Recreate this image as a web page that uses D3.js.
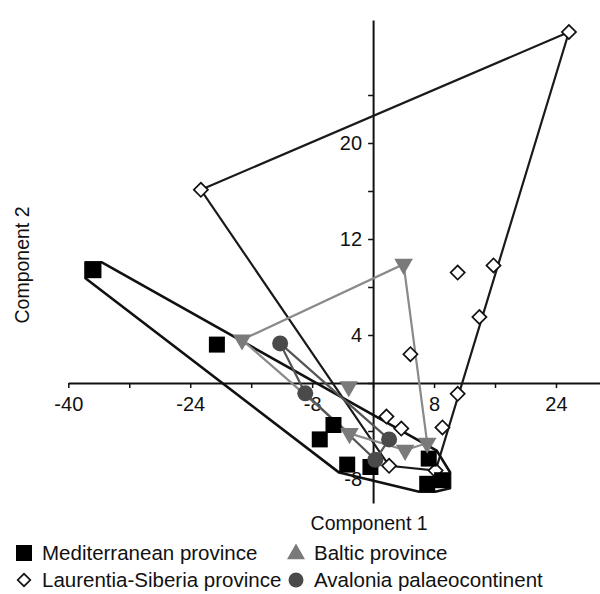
<!DOCTYPE html>
<html>
<head>
<meta charset="utf-8">
<script src="https://cdn.jsdelivr.net/npm/d3@7"></script>
<style>
  body { margin: 0; background: #fff; }
  text { font-family: Arial, "Liberation Sans", sans-serif; }
</style>
</head>
<body>
<div id="my_dataviz"></div>
<script>
// values
var medX = [-36.7, -20.5, -7.0, -5.2, -3.4, -0.35, 7.3, 7.1, 9.05];
var medY = [9.4, 3.2, -4.7, -3.5, -6.8, -7.0, -6.3, -8.4, -8.1];

var laurX = [25.7, -22.6, 11.1, 15.8, 13.95, 4.9, 11.1, 1.75, 3.7, 9.1, 2.1, 8.2];
var laurY = [29.25, 16.1, 9.2, 9.8, 5.5, 2.4, -0.9, -2.8, -3.8, -3.7, -6.9, -7.3];

var balX = [-17.2, 4.0, -3.2, -3.1, 4.2, 7.1];
var balY = [3.6, 9.9, -0.3, -4.2, -5.6, -5.0];

var avaX = [-12.2, -8.9, 2.1, 0.3];
var avaY = [3.3, -0.86, -4.7, -6.4];

var xTicks = [-40, -32, -24, -16, -8, 0, 8, 16, 24];
var xLabels = [-40, -24, -8, 8, 24];
var yTicks = [-8, -4, 0, 4, 8, 12, 16, 20, 24];
var yLabels = [-8, 4, 12, 20];

var legendNames = ["Mediterranean province", "Laurentia-Siberia province", "Baltic province", "Avalonia palaeocontinent"];

var width = 600, height = 594;

var svg = d3.select("#my_dataviz")
  .append("svg")
  .attr("width", width)
  .attr("height", height);

var x = d3.scaleLinear().domain([-40, 30]).range([68.3, 601.7]);
var y = d3.scaleLinear().domain([-10, 30.25]).range([503, 20]);

function pts(xs, ys) {
  return xs.map(function (d, i) { return [x(d), y(ys[i])]; });
}

var med = pts(medX, medY),
  laur = pts(laurX, laurY),
  bal = pts(balX, balY),
  ava = pts(avaX, avaY);

// axes
var xAxis = svg.append("g")
  .attr("transform", "translate(0," + y(0) + ")")
  .call(d3.axisBottom(x)
    .tickValues(xTicks)
    .tickSize(5)
    .tickSizeOuter(0)
    .tickPadding(9)
    .tickFormat(function (d) { return xLabels.indexOf(d) >= 0 ? d : ""; }));

var yAxis = svg.append("g")
  .attr("transform", "translate(" + x(0) + ",0)")
  .call(d3.axisLeft(y)
    .tickValues(yTicks)
    .tickSize(5)
    .tickSizeOuter(0)
    .tickPadding(6)
    .tickFormat(function (d) { return yLabels.indexOf(d) >= 0 ? d : ""; }));

[xAxis, yAxis].forEach(function (a) {
  a.select(".domain").attr("stroke", "#111").attr("stroke-width", 2);
  a.selectAll(".tick line").attr("stroke", "#111").attr("stroke-width", 1.5);
  a.selectAll(".tick text").attr("font-size", 20).attr("fill", "#111");
});

// hull outlines
var line = d3.line().curve(d3.curveLinearClosed);

// mediterranean hull wraps round the square markers
var half = 8;
var medCorners = [];
med.forEach(function (p) {
  medCorners.push([p[0] - half, p[1] - half], [p[0] + half, p[1] - half],
    [p[0] + half, p[1] + half], [p[0] - half, p[1] + half]);
});

svg.append("path")
  .attr("d", line(d3.polygonHull(laur)))
  .attr("fill", "none").attr("stroke", "#1a1a1a").attr("stroke-width", 2.2);

svg.append("path")
  .attr("d", line(d3.polygonHull(medCorners)))
  .attr("fill", "none").attr("stroke", "#111").attr("stroke-width", 2.6)
  .attr("stroke-linejoin", "round");

svg.append("path")
  .attr("d", line(d3.polygonHull(bal)))
  .attr("fill", "none").attr("stroke", "#8a8a8a").attr("stroke-width", 2.2);

svg.append("path")
  .attr("d", line(d3.polygonHull(ava)))
  .attr("fill", "none").attr("stroke", "#555").attr("stroke-width", 2.2);

// markers
var triDown = d3.symbol().type(d3.symbolTriangle).size(150);

svg.append("g").selectAll("path")
  .data(laur).enter().append("path")
  .attr("transform", function (d) { return "translate(" + d[0] + "," + d[1] + ") rotate(45)"; })
  .attr("d", d3.symbol().type(d3.symbolSquare).size(100))
  .attr("fill", "#fff").attr("stroke", "#111").attr("stroke-width", 1.7);

svg.append("g").selectAll("path")
  .data(med).enter().append("path")
  .attr("transform", function (d) { return "translate(" + d[0] + "," + d[1] + ")"; })
  .attr("d", d3.symbol().type(d3.symbolSquare).size(256))
  .attr("fill", "#000");

svg.append("g").selectAll("path")
  .data(bal).enter().append("path")
  .attr("transform", function (d) { return "translate(" + d[0] + "," + d[1] + ") rotate(180)"; })
  .attr("d", triDown)
  .attr("fill", "#7a7a7a");

svg.append("g").selectAll("circle")
  .data(ava).enter().append("circle")
  .attr("cx", function (d) { return d[0]; })
  .attr("cy", function (d) { return d[1]; })
  .attr("r", 8)
  .attr("fill", "#4a4a4a");

// axis titles
svg.append("text")
  .attr("x", x(0) - 4).attr("y", 530)
  .attr("text-anchor", "middle")
  .attr("font-size", 19.5)
  .attr("fill", "#111")
  .text("Component 1");

svg.append("text")
  .attr("transform", "translate(29," + 265 + ") rotate(-90)")
  .attr("text-anchor", "middle")
  .attr("font-size", 19.5)
  .attr("fill", "#111")
  .text("Component 2");

// legend
var legX = [24, 24, 296, 296],
  legY = [553, 580, 553, 580];
var legend = svg.append("g");

legend.append("rect").attr("x", legX[0] - 8).attr("y", legY[0] - 8).attr("width", 16).attr("height", 16).attr("fill", "#000");
legend.append("path")
  .attr("transform", "translate(" + legX[1] + "," + legY[1] + ") rotate(45)")
  .attr("d", d3.symbol().type(d3.symbolSquare).size(80))
  .attr("fill", "#fff").attr("stroke", "#111").attr("stroke-width", 1.7);
legend.append("path")
  .attr("transform", "translate(" + legX[2] + "," + (legY[2] + 1) + ")")
  .attr("d", d3.symbol().type(d3.symbolTriangle).size(140))
  .attr("fill", "#7a7a7a");
legend.append("circle").attr("cx", legX[3]).attr("cy", legY[3]).attr("r", 7.5).attr("fill", "#4a4a4a");

legend.selectAll("text")
  .data(legendNames).enter().append("text")
  .attr("x", function (d, i) { return legX[i] + 18; })
  .attr("y", function (d, i) { return legY[i] + 7; })
  .attr("font-size", 20.5)
  .attr("fill", "#111")
  .text(function (d) { return d; });
</script>
</body>
</html>
